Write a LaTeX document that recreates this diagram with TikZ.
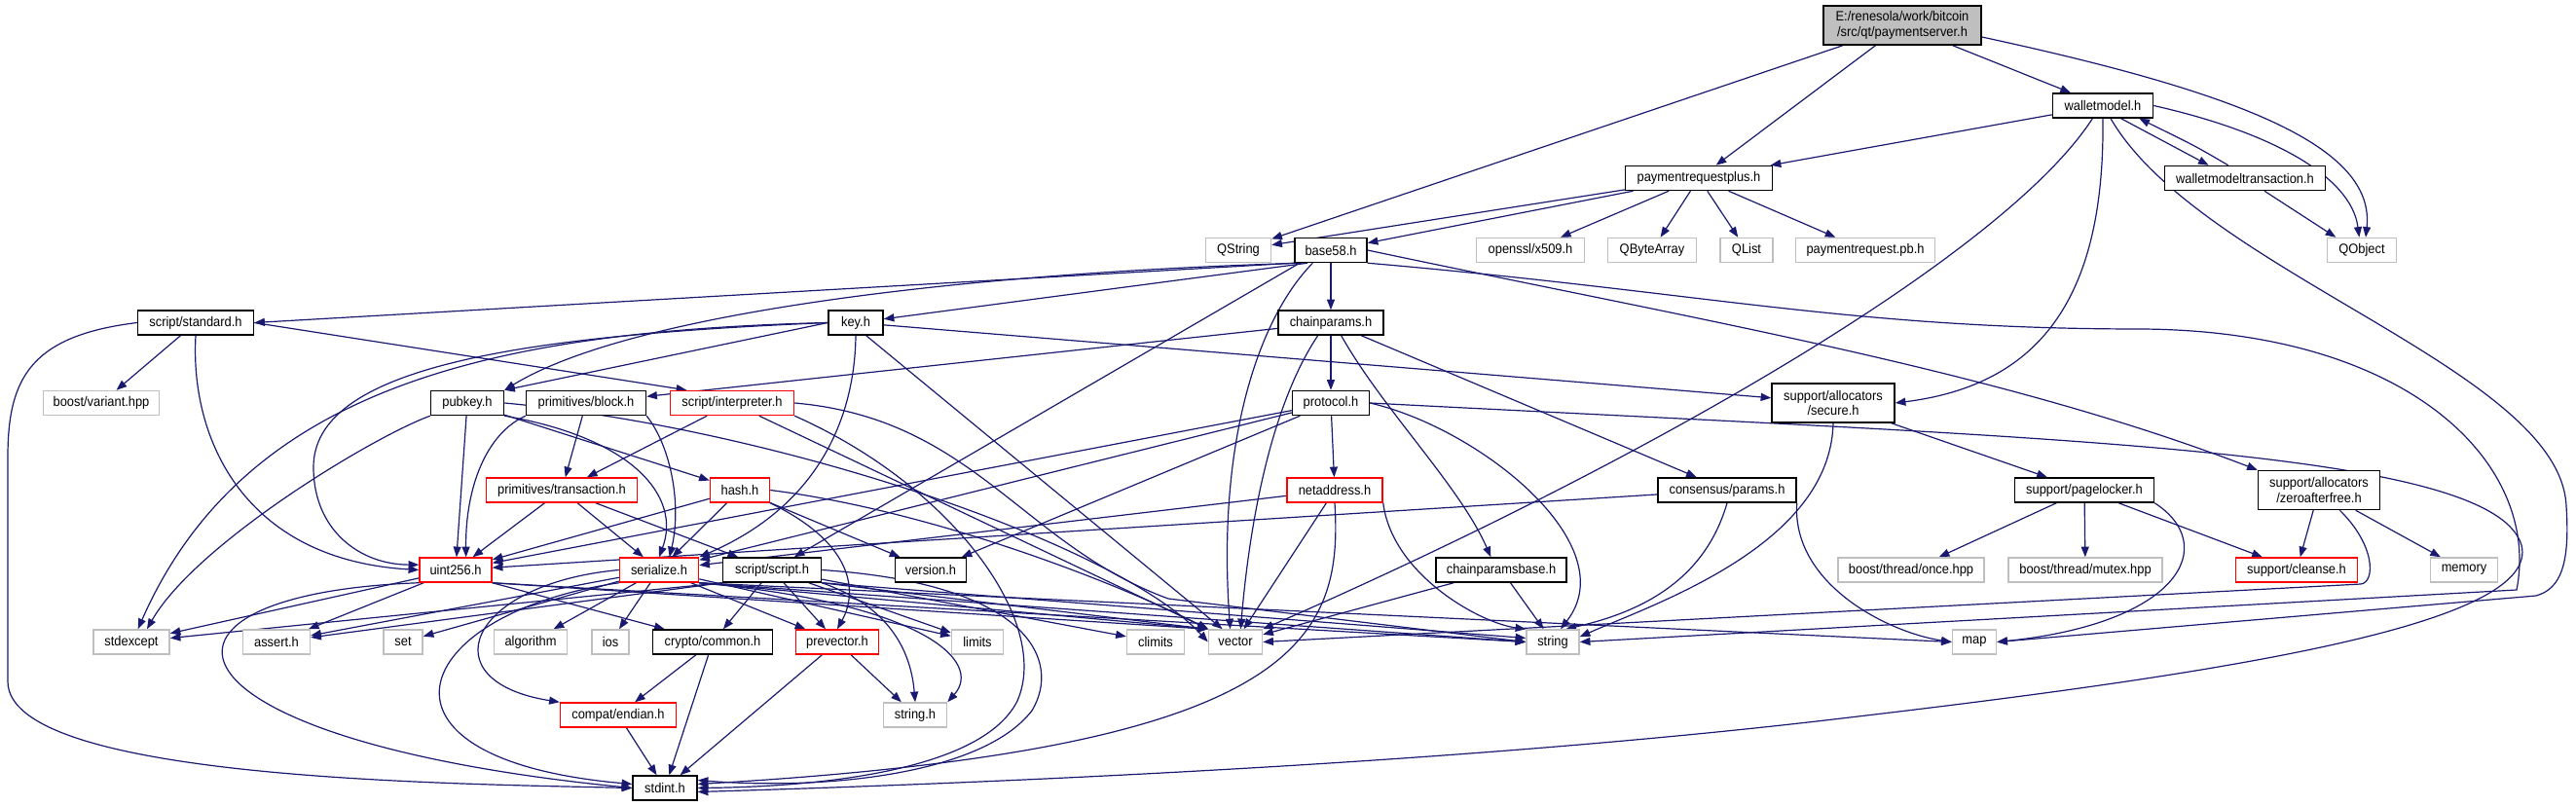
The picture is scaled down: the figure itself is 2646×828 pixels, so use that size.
\documentclass[tikz,border=0pt]{standalone}
\usepackage{fontspec}
\setmainfont{Liberation Sans}[FakeStretch=0.92]
\usepackage{tikz}
\usetikzlibrary{arrows.meta}
\usetikzlibrary{backgrounds}
\definecolor{edgeblue}{RGB}{25,25,112}
\definecolor{boxgray}{RGB}{191,191,191}
\tikzset{
    hdrbox/.style={
        draw=black,
        fill=white,
        line width=1.1pt,
        inner sep=1pt,
        minimum height=18.75pt,
        align=center,
        font=\fontsize{10.5}{11.5}\selectfont
    },
    % external headers
    sysbox/.style={hdrbox, draw=boxgray},
    % headers with hidden includes
    cutbox/.style={hdrbox, draw=red},
    rootbox/.style={hdrbox, fill=boxgray, minimum height=30pt},
    twoline/.style={minimum height=30pt},
    wd/.style={minimum width=#1*0.75pt},
    incarrow/.style={
        draw=edgeblue,
        line width=0.9pt,
        -{Triangle[length=8pt, width=6pt]}
    }
}
\begin{document}
\begin{tikzpicture}[x=0.75pt, y=-0.75pt]
	\useasboundingbox (0,0) rectangle (2646,828);
	
	% top rows
	\node[rootbox, wd=162] (ps) at (1954,26) {E:/renesola/work/bitcoin\\/src/qt/paymentserver.h};
	\node[hdrbox, wd=103] (wm) at (2160,108.5) {walletmodel.h};
	\node[hdrbox, wd=151] (prp) at (1745,183) {paymentrequestplus.h};
	\node[hdrbox, wd=165] (wmt) at (2306,183) {walletmodeltransaction.h};
	
	\node[sysbox, wd=67] (qstr) at (1272,257) {QString};
	\node[hdrbox, wd=74] (b58) at (1367,257) {base58.h};
	\node[sysbox, wd=111] (x509) at (1572,257) {openssl/x509.h};
	\node[sysbox, wd=91] (qba) at (1697,257) {QByteArray};
	\node[sysbox, wd=54] (qlist) at (1794,257) {QList};
	\node[sysbox, wd=143] (pb) at (1916,257) {paymentrequest.pb.h};
	\node[sysbox, wd=71] (qobj) at (2426,257) {QObject};
	
	\node[hdrbox, wd=119] (std) at (201,331.5) {script/standard.h};
	\node[hdrbox, wd=56] (key) at (879,331.5) {key.h};
	\node[hdrbox, wd=108] (cp) at (1367,331.5) {chainparams.h};
	
	\node[sysbox, wd=119] (bvar) at (104,414) {boost/variant.hpp};
	\node[hdrbox, wd=75] (pub) at (480,414) {pubkey.h};
	\node[hdrbox, wd=123] (blk) at (602,414) {primitives/block.h};
	\node[cutbox, wd=127] (interp) at (752,414) {script/interpreter.h};
	\node[hdrbox, wd=79] (proto) at (1367,414) {protocol.h};
	\node[hdrbox, wd=126, twoline] (sec) at (1883,414) {support/allocators\\/secure.h};
	
	\node[cutbox, wd=155] (tx) at (577,503.5) {primitives/transaction.h};
	\node[cutbox, wd=61] (hash) at (760,503.5) {hash.h};
	\node[cutbox, wd=98] (net) at (1371,503.5) {netaddress.h};
	\node[hdrbox, wd=142] (cons) at (1774,503.5) {consensus/params.h};
	\node[hdrbox, wd=143] (pl) at (2141,503.5) {support/pagelocker.h};
	\node[hdrbox, wd=125, twoline] (zaf) at (2382,503.5) {support/allocators\\/zeroafterfree.h};
	
	% lower rows
	\node[cutbox, wd=74] (u256) at (468,585.5) {uint256.h};
	\node[cutbox, wd=81] (ser) at (677,585.5) {serialize.h};
	\node[hdrbox, wd=101] (scr) at (793,585.5) {script/script.h};
	\node[hdrbox, wd=73] (ver) at (956,585.5) {version.h};
	\node[hdrbox, wd=134] (cpb) at (1542,585.5) {chainparamsbase.h};
	\node[sysbox, wd=150] (once) at (1963,585.5) {boost/thread/once.hpp};
	\node[sysbox, wd=158] (mutex) at (2142,585.5) {boost/thread/mutex.hpp};
	\node[cutbox, wd=125] (cln) at (2359,585.5) {support/cleanse.h};
	\node[sysbox, wd=69] (mem) at (2531,585.5) {memory};
	
	\node[sysbox, wd=78] (stdx) at (135,659.5) {stdexcept};
	\node[sysbox, wd=69] (asrt) at (284,659.5) {assert.h};
	\node[sysbox, wd=40] (set) at (414,659.5) {set};
	\node[sysbox, wd=75] (algo) at (545,659.5) {algorithm};
	\node[sysbox, wd=38] (ios) at (627,659.5) {ios};
	\node[hdrbox, wd=123] (cc) at (732,659.5) {crypto/common.h};
	\node[cutbox, wd=85] (pv) at (860,659.5) {prevector.h};
	\node[sysbox, wd=53] (lim) at (1004,659.5) {limits};
	\node[sysbox, wd=59] (clim) at (1187,659.5) {climits};
	\node[sysbox, wd=55] (vec) at (1269,659.5) {vector};
	\node[sysbox, wd=54] (str) at (1595,659.5) {string};
	\node[sysbox, wd=45] (map) at (2028,659.5) {map};
	
	\node[cutbox, wd=119] (endn) at (635,734.5) {compat/endian.h};
	\node[sysbox, wd=65] (strh) at (940,734.5) {string.h};
	\node[hdrbox, wd=66] (sint) at (683,809.5) {stdint.h};
	
	\begin{scope}[on background layer]
	% paymentserver.h
	\draw[incarrow] (ps) -- (qstr);
	\draw[incarrow] (ps) -- (prp);
	\draw[incarrow] (ps) -- (wm);
	\draw[incarrow] ([yshift=-9pt]ps.east) .. controls (2300,95) and (2440,150) .. ([xshift=3pt]qobj.north);
	
	% walletmodel.h
	\draw[incarrow] (wm) -- (prp);
	\draw[incarrow] ([xshift=14pt]wm.south) -- ([xshift=-28pt]wmt.north);
	\draw[incarrow] ([xshift=-13pt]wmt.north) .. controls (2255,150) .. ([xshift=28pt]wm.south);
	\draw[incarrow] ([xshift=15pt]wmt.south) -- ([xshift=-20pt]qobj.north);
	\draw[incarrow] (wm.east) .. controls (2330,135) and (2415,180) .. ([xshift=-2pt]qobj.north);
	\draw[incarrow] (wm.south) .. controls (2162,300) and (2100,395) .. (sec.east);
	\draw[incarrow] ([xshift=-8pt]wm.south) .. controls (2060,260) and (1700,470) .. (vec.north east);
	\draw[incarrow] ([xshift=6pt]wm.south) .. controls (2260,280) and (2630,380) .. (2636,520)
		.. controls (2640,580) and (2630,605) .. (2605,612) -- (map.east);
	
	% paymentrequestplus.h
	\draw[incarrow] (prp) -- (qstr);
	\draw[incarrow] (prp) -- (b58);
	\draw[incarrow] (prp) -- (x509);
	\draw[incarrow] (prp) -- (qba);
	\draw[incarrow] (prp) -- (qlist);
	\draw[incarrow] (prp) -- (pb);
	
	% base58.h
	\draw[incarrow] (b58.south west) -- (std.east);
	\draw[incarrow] ([xshift=-18pt]b58.south) -- (key);
	\draw[incarrow] ([xshift=-22pt]b58.south) .. controls (1000,280) and (650,320) .. (pub.north east);
	\draw[incarrow] (b58) -- (cp);
	\draw[incarrow] ([xshift=-14pt]b58.south) .. controls (1290,330) and (1250,460) .. ([xshift=-4pt]vec.north);
	\draw[incarrow] ([xshift=-24pt]b58.south) -- (scr);
	\draw[incarrow] (b58.east) .. controls (1750,330) and (2050,380) .. (zaf.north west);
	\draw[incarrow] (b58.south east) .. controls (1750,300) and (1900,338) .. (2200,338)
		.. controls (2480,340) and (2610,480) .. (2585,606) -- (str.east);
	
	% script/standard.h
	\draw[incarrow] (std.east) -- ([xshift=-35pt]interp.north);
	\draw[incarrow] (std) -- (bvar);
	\draw[incarrow] (std.south) .. controls (195,450) and (250,575) .. (u256.west);
	\draw[incarrow] (std.west) .. controls (30,345) and (8,390) .. (8,470) -- (8,700)
		.. controls (8,800) and (450,805) .. (sint.west);
	
	% key.h
	\draw[incarrow] (key.west) -- (pub.north east);
	\draw[incarrow] (key) -- (sec);
	\draw[incarrow] (key.south) .. controls (878,430) and (840,520) .. (ser.north east);
	\draw[incarrow] ([xshift=8pt]key.south) -- ([xshift=-10pt]vec.north);
	\draw[incarrow] (key.west) .. controls (520,345) and (322,380) .. (322,480)
		.. controls (322,545) and (370,580) .. ([yshift=4pt]u256.west);
	\draw[incarrow] (key.west) .. controls (500,340) and (250,400) .. ([xshift=5pt]stdx.north);
	
	% pubkey.h
	\draw[incarrow] (pub) -- (hash);
	\draw[incarrow] (pub.south east) .. controls (650,450) and (700,510) .. (ser.north);
	\draw[incarrow] (pub) -- (u256);
	\draw[incarrow] (pub.south west) .. controls (380,450) and (200,560) .. ([xshift=12pt]stdx.north);
	\draw[incarrow] (pub.east) .. controls (800,440) and (1150,560) .. (vec.west);
	
	% chainparams.h
	\draw[incarrow] (cp) -- (blk);
	\draw[incarrow] (cp) -- (proto);
	\draw[incarrow] ([xshift=8pt]cp.south) .. controls (1420,420) and (1500,500) .. ([xshift=-8pt]cpb.north);
	\draw[incarrow] (cp) -- (cons);
	\draw[incarrow] ([xshift=-10pt]cp.south) .. controls (1310,410) and (1285,520) .. ([xshift=4pt]vec.north);
	
	% primitives/block.h
	\draw[incarrow] (blk) -- (tx);
	\draw[incarrow] (blk.south east) .. controls (690,460) and (700,520) .. ([xshift=8pt]ser.north);
	\draw[incarrow] (blk.south west) .. controls (500,445) and (478,500) .. ([xshift=8pt]u256.north);
	
	% script/interpreter.h
	\draw[incarrow] (interp) -- (tx);
	\draw[incarrow] (interp.east) .. controls (1000,430) and (1050,560) .. (1200,615) -- (str.west);
	\draw[incarrow] (interp) -- (vec);
	\draw[incarrow] (interp.south east) .. controls (980,500) and (1080,640) .. (1045,720)
		.. controls (1010,790) and (850,808) .. (sint.east);
	
	% primitives/transaction.h
	\draw[incarrow] (tx) -- (u256);
	\draw[incarrow] (tx) -- (ser);
	\draw[incarrow] (tx) -- (scr);
	
	% hash.h
	\draw[incarrow] (hash) -- (u256);
	\draw[incarrow] (hash) -- (ser);
	\draw[incarrow] (hash.south east) .. controls (880,560) and (880,610) .. (pv.north);
	\draw[incarrow] (hash) -- (ver);
	\draw[incarrow] (hash.east) .. controls (960,525) and (1150,600) .. (vec.north west);
	
	% protocol.h
	\draw[incarrow] (proto) -- (net);
	\draw[incarrow] (proto) -- (ser);
	\draw[incarrow] (proto) -- (u256);
	\draw[incarrow] (proto) -- (ver);
	\draw[incarrow] (proto.east) .. controls (1520,440) and (1670,560) .. ([xshift=6pt]str.north);
	\draw[incarrow] (proto.east) .. controls (2100,450) and (2560,460) .. (2590,560)
		.. controls (2610,640) and (2300,690) .. (1900,737)
		.. controls (1500,785) and (1000,805) .. ([yshift=-3pt]sint.east);
	
	% netaddress.h
	\draw[incarrow] (net) -- (ser);
	\draw[incarrow] (net.south) .. controls (1380,660) and (1330,770) .. ([yshift=3pt]sint.east);
	\draw[incarrow] (net.south east) .. controls (1430,590) and (1520,640) .. (str.north west);
	\draw[incarrow] (net) -- (vec);
	
	% consensus/params.h
	\draw[incarrow] (cons) -- (u256);
	\draw[incarrow] (cons.south east) .. controls (1840,600) and (1940,650) .. (map.west);
	\draw[incarrow] (cons.south) .. controls (1750,600) and (1680,630) .. ([xshift=10pt]str.north);
	
	% support/allocators/secure.h
	\draw[incarrow] (sec) -- (pl);
	\draw[incarrow] (sec.south) .. controls (1880,560) and (1700,620) .. ([yshift=4pt]str.east);
	
	% support/pagelocker.h
	\draw[incarrow] (pl) -- (once);
	\draw[incarrow] (pl) -- (mutex);
	\draw[incarrow] (pl) -- (cln);
	\draw[incarrow] (pl.south east) .. controls (2280,560) and (2240,640) .. (map.east);
	
	% support/allocators/zeroafterfree.h
	\draw[incarrow] (zaf) -- (cln);
	\draw[incarrow] (zaf) -- (mem);
	\draw[incarrow] ([xshift=16pt]zaf.south) .. controls (2440,560) and (2440,598) .. (2425,600) -- (vec.east);
	
	% chainparamsbase.h
	\draw[incarrow] (cpb) -- (str);
	\draw[incarrow] (cpb) -- (vec);
	
	% uint256.h
	\draw[incarrow] (u256) -- (asrt);
	\draw[incarrow] (u256) -- (stdx);
	\draw[incarrow] (u256.south west) .. controls (120,610) and (150,760) .. (sint.west);
	\draw[incarrow] (u256.south east) -- (str.west);
	\draw[incarrow] (u256.south east) -- (vec.north west);
	\draw[incarrow] (u256.south east) -- (cc);
	
	% serialize.h
	\draw[incarrow] (ser.west) .. controls (480,600) and (440,700) .. (endn.north west);
	\draw[incarrow] (ser) -- (algo);
	\draw[incarrow] (ser) -- (asrt);
	\draw[incarrow] (ser) -- (ios);
	\draw[incarrow] (ser) -- (set);
	\draw[incarrow] (ser) -- (lim);
	\draw[incarrow] (ser) -- (pv);
	\draw[incarrow] (ser.south east) -- (map.west);
	\draw[incarrow] (ser.south east) -- (str.west);
	\draw[incarrow] (ser.south east) -- (vec.north west);
	\draw[incarrow] (ser.south west) .. controls (420,630) and (360,780) .. ([yshift=3pt]sint.west);
	\draw[incarrow] (ser.south east) .. controls (950,620) and (1010,680) .. (strh.north east);
	
	% script/script.h
	\draw[incarrow] (scr) -- (cc);
	\draw[incarrow] (scr) -- (pv);
	\draw[incarrow] (scr.south west) -- (asrt);
	\draw[incarrow] (scr) -- (clim);
	\draw[incarrow] (scr) -- (lim);
	\draw[incarrow] (scr.south west) -- (stdx);
	\draw[incarrow] (scr.south east) .. controls (905,620) and (935,660) .. (strh.north);
	\draw[incarrow] (scr.south east) -- ([yshift=3pt]str.west);
	\draw[incarrow] (scr.south east) -- (vec.north west);
	\draw[incarrow] (scr.east) .. controls (1060,600) and (1090,680) .. (1060,730)
		.. controls (1010,795) and (850,812) .. ([yshift=6pt]sint.east);
	
	% crypto/common.h, prevector.h, compat/endian.h
	\draw[incarrow] (cc) -- (endn);
	\draw[incarrow] (cc) -- (sint);
	\draw[incarrow] (pv) -- (sint);
	\draw[incarrow] (pv) -- (strh);
	\draw[incarrow] (endn) -- (sint);
	\end{scope}
\end{tikzpicture}
\end{document}
